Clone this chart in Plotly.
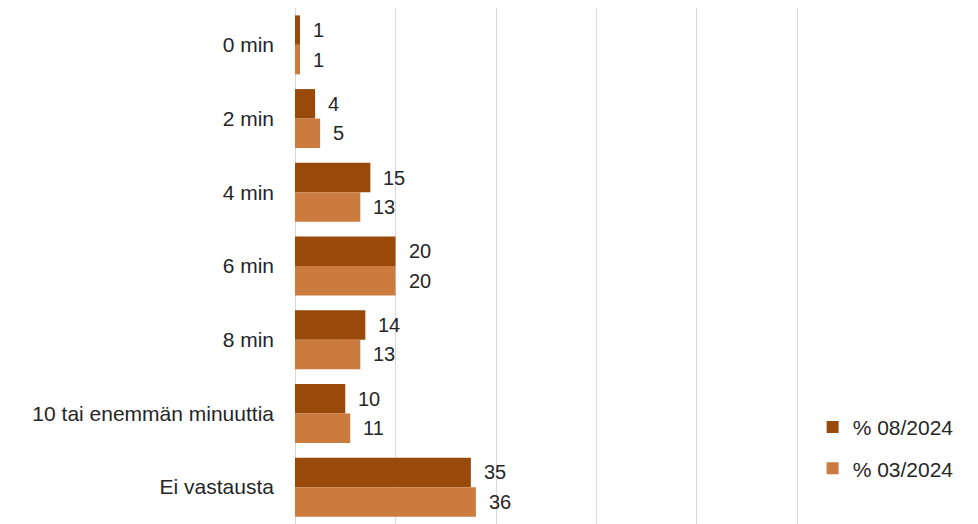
import plotly.graph_objects as go

categories = ["0 min", "2 min", "4 min", "6 min", "8 min", "10 tai enemmän minuuttia", "Ei vastausta"]
series_names = ["% 08/2024", "% 03/2024"]
values_08_2024 = [1, 4, 15, 20, 14, 10, 35]
values_03_2024 = [1, 5, 13, 20, 13, 11, 36]
x_ticks = [0, 20, 40, 60, 80, 100]

colors = ["#994A0B", "#CB7B3E"]
series = [values_08_2024, values_03_2024]
text_color = "#262626"
font_family = "Liberation Sans, Arial, sans-serif"

fig = go.Figure()
for i, (name, vals) in enumerate(zip(series_names, series)):
    fig.add_trace(go.Bar(
        y=categories, x=vals, name=name, orientation="h",
        marker=dict(color=colors[i], line=dict(width=0)),
        legendgroup=name,
    ))

slot = 516 / 7
half = slot * 0.8 / 4
annotations = []
for i, vals in enumerate(series):
    for c, v in zip(categories, vals):
        annotations.append(dict(
            x=v, y=c, xref="x", yref="y", text=str(v), showarrow=False,
            xanchor="left", yanchor="middle", xshift=11,
            yshift=half if i == 0 else -half,
            font=dict(size=20, color=text_color, family=font_family),
        ))

fig.update_layout(
    width=978, height=524,
    margin=dict(l=295, r=178, t=8, b=0),
    paper_bgcolor="white", plot_bgcolor="white",
    barmode="group", bargap=0.2, bargroupgap=0,
    font=dict(family=font_family, size=20, color=text_color),
    annotations=annotations,
    showlegend=True,
    legend=dict(
        x=1.025, y=0.227, xanchor="left", yanchor="top",
        traceorder="grouped", tracegroupgap=11,
        font=dict(size=21, color=text_color),
        bgcolor="rgba(0,0,0,0)",
    ),
    xaxis=dict(
        range=[0, 100.5], tickvals=x_ticks, showticklabels=False,
        showgrid=True, gridcolor="#D9D9D9", gridwidth=1,
        zeroline=True, zerolinecolor="#D9D9D9", zerolinewidth=1,
        showline=False, ticks="",
    ),
    yaxis=dict(
        autorange="reversed", showgrid=False, zeroline=False, showline=False,
        ticks="", ticklabelstandoff=20,
        tickfont=dict(size=21, color=text_color),
    ),
)

fig.write_html("out.html")
